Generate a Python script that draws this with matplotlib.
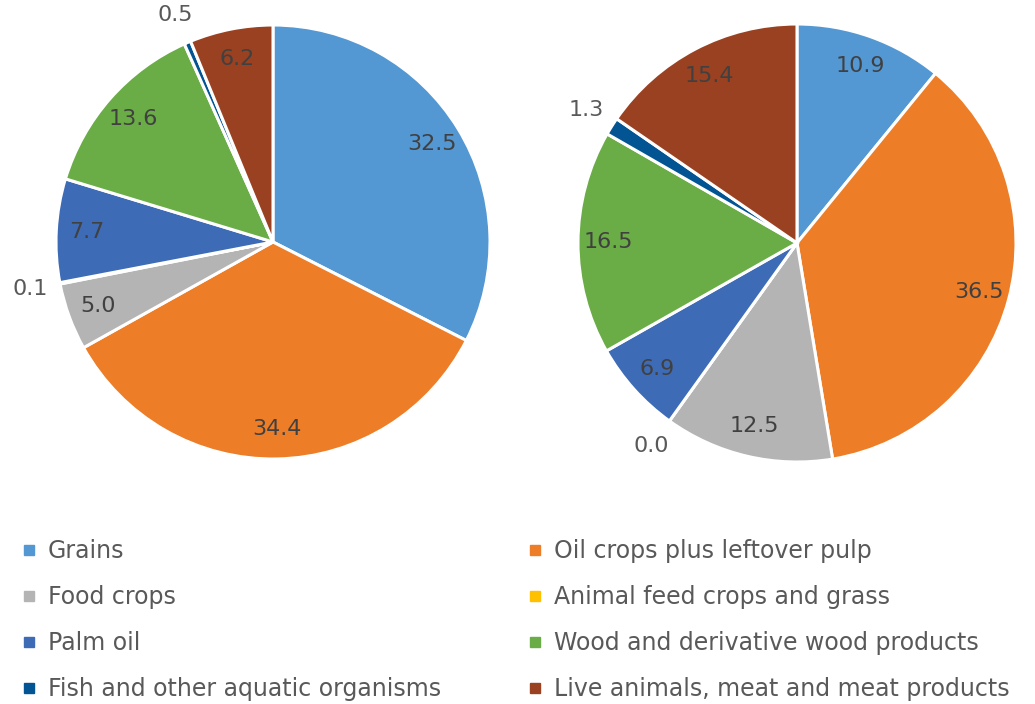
import numpy as np
import matplotlib.pyplot as plt
from matplotlib.lines import Line2D

categories = ['Grains', 'Oil crops plus leftover pulp', 'Food crops',
              'Animal feed crops and grass', 'Palm oil',
              'Wood and derivative wood products',
              'Fish and other aquatic organisms',
              'Live animals, meat and meat products']
left_values = [32.5, 34.4, 5.0, 0.1, 7.7, 13.6, 0.5, 6.2]
right_values = [10.9, 36.5, 12.5, 0.0, 6.9, 16.5, 1.3, 15.4]
colours = ['#5397D3', '#ED7D27', '#B4B4B4', '#FFC000',
           '#3E6BB5', '#6AAC46', '#025492', '#9A4121']

W, H = 1035, 704
plt.rcParams['font.family'] = 'DejaVu Sans'
fig = plt.figure(figsize=(W / 100, H / 100), dpi=100)


def draw_pie(values, cx, cy, r):
    # axes placed so the pie of radius 1 lands at pixel centre (cx, cy)
    ax = fig.add_axes([(cx - r) / W, (H - cy - r) / H, 2 * r / W, 2 * r / H])
    wedges, _ = ax.pie(values, colors=colours, startangle=90, counterclock=False,
                       radius=1, wedgeprops=dict(edgecolor='white', linewidth=2.2))
    for w, v in zip(wedges, values):
        mid = np.deg2rad((w.theta1 + w.theta2) / 2)
        if v < 2:
            d, col = 1.14, '#595959'
        else:
            d, col = 0.86, '#404040'
        ax.text(d * np.cos(mid), d * np.sin(mid), '%.1f' % v, ha='center',
                va='center', fontsize=16, color=col)
    ax.set_xlim(-1, 1)
    ax.set_ylim(-1, 1)
    ax.axis('off')
    return ax


draw_pie(left_values, 273, 242, 217)
draw_pie(right_values, 797, 243, 219)

handles = [Line2D([], [], marker='s', ls='', markersize=7, color=c) for c in colours]
for col, x0 in ((0, 22), (1, 528)):
    idx = range(col, len(categories), 2)
    fig.legend([handles[i] for i in idx], [categories[i] for i in idx],
               loc='upper left', bbox_to_anchor=(x0 / W, 1 - 539 / H),
               frameon=False, fontsize=17, labelcolor='#595959',
               handlelength=0.6, handletextpad=0.5, labelspacing=0.93,
               borderaxespad=0, borderpad=0)

fig.savefig('out.png', dpi=100, facecolor='white')
